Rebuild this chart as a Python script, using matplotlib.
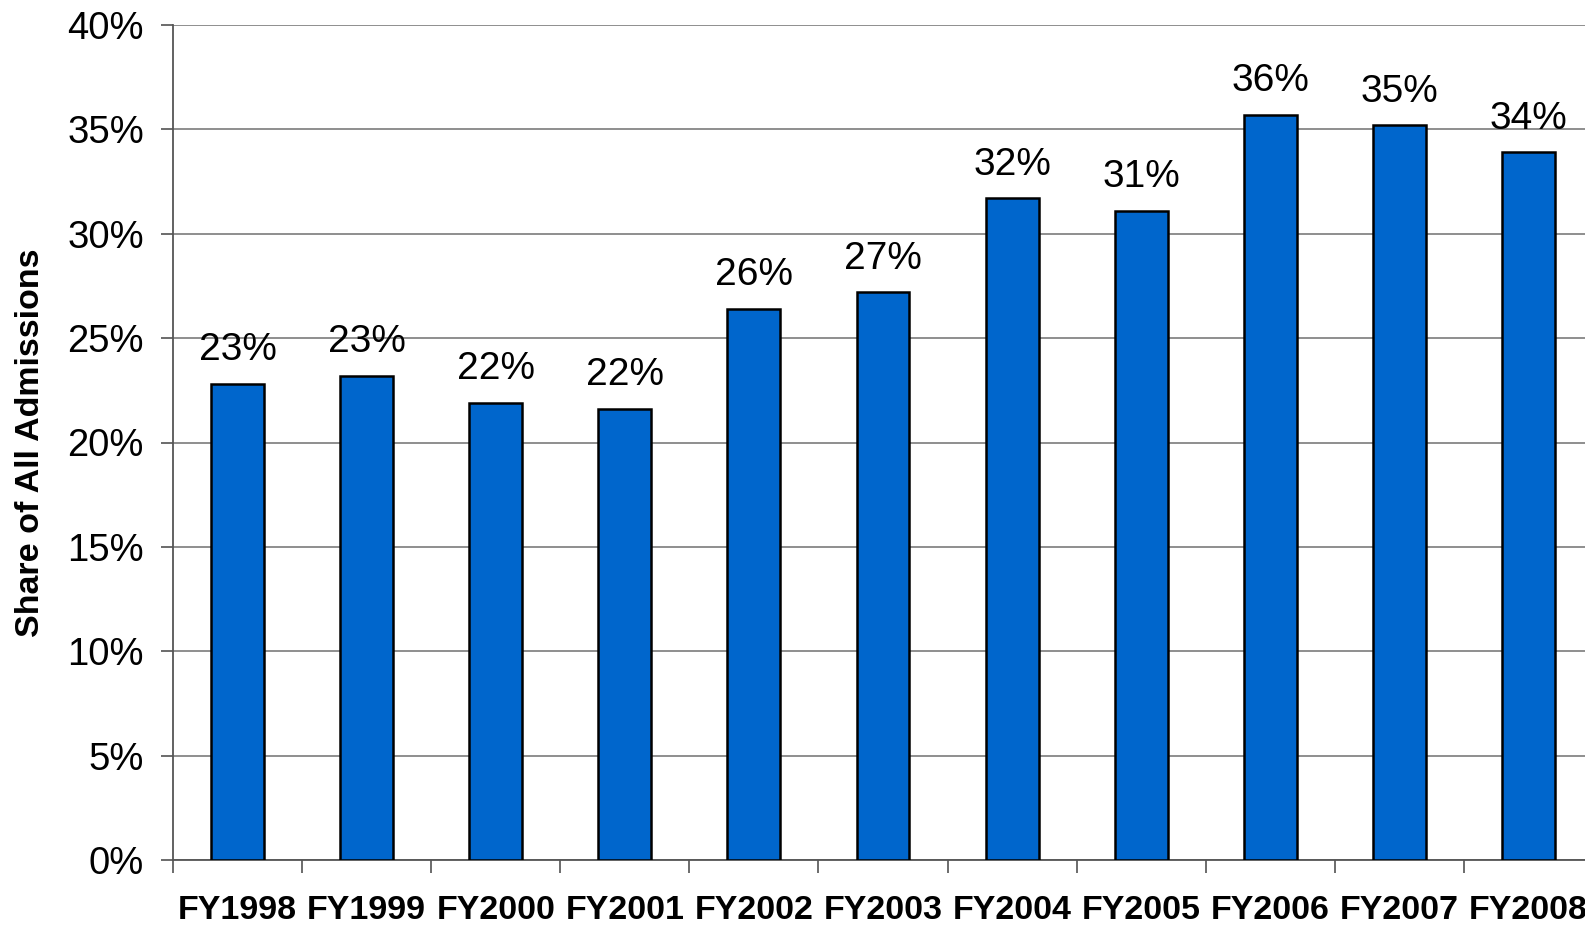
import matplotlib
matplotlib.use("Agg")
import matplotlib.pyplot as plt
import numpy as np

plt.rcParams['font.family'] = ['Liberation Sans', 'DejaVu Sans']

# data
years = ['FY1998', 'FY1999', 'FY2000', 'FY2001', 'FY2002', 'FY2003',
         'FY2004', 'FY2005', 'FY2006', 'FY2007', 'FY2008']
share = [22.8, 23.2, 21.9, 21.6, 26.4, 27.2, 31.7, 31.1, 35.7, 35.2, 33.9]
y_ticks = [0, 5, 10, 15, 20, 25, 30, 35, 40]

fig = plt.figure(figsize=(15.85, 9.25), dpi=100)
# the plot area runs past the right edge of the figure, as in the source
ax = fig.add_axes([173/1585, 65/925, 1420/1585, 835/925])

x = np.arange(len(years))
ax.bar(x, share, width=0.41, color='#0066CC', edgecolor='black', linewidth=1.8, zorder=3)

for xi, v in zip(x, share):
    ax.annotate('{:.0f}%'.format(v), (xi, v), xytext=(0, 17), textcoords='offset points',
                ha='center', va='baseline', fontsize=28)

ax.set_xlim(-0.5, len(years) - 0.5)
ax.set_ylim(0, 40)
ax.set_yticks(y_ticks)
ax.set_yticklabels(['{}%'.format(t) for t in y_ticks], fontsize=27.5)
ax.yaxis.grid(True, color='#707070', linewidth=1.1)
ax.set_axisbelow(True)

ax.set_xticks(x)
ax.set_xticklabels(years, fontsize=24.5, fontweight='bold')
ax.set_xticks(np.arange(len(years) + 1) - 0.5, minor=True)
ax.tick_params(axis='x', which='major', length=0, pad=25)
ax.tick_params(axis='x', which='minor', length=9, width=1.1, color='#444444')
ax.tick_params(axis='y', length=9, width=1.1, color='#444444', pad=12)

for s in ['top', 'right']:
    ax.spines[s].set_visible(False)
ax.spines['left'].set_color('#555555')
ax.spines['bottom'].set_color('#555555')
ax.spines['left'].set_linewidth(1.3)
ax.spines['bottom'].set_linewidth(1.3)

ax.set_ylabel('Share of All Admissions', fontsize=24.5, fontweight='bold', labelpad=15)

fig.savefig('out.png', dpi=100)
